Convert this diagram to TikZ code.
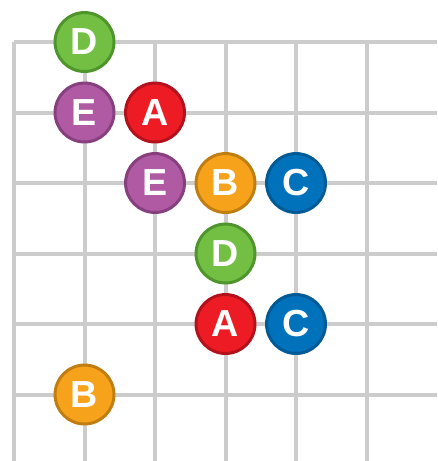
\documentclass[tikz,border=0pt]{standalone}
\usepackage{fontspec}
\setmainfont{Liberation Sans}
\usepackage{tikz}
\usetikzlibrary{positioning}
\definecolor{gridgray}{HTML}{CCCCCC}
\definecolor{rdA}{HTML}{ED1C24}
\definecolor{rdAedge}{HTML}{B3121C}
\definecolor{orB}{HTML}{F7A21B}
\definecolor{orBedge}{HTML}{C07D12}
\definecolor{blC}{HTML}{0071BB}
\definecolor{blCedge}{HTML}{005A95}
\definecolor{grD}{HTML}{72BF44}
\definecolor{grDedge}{HTML}{4E952C}
\definecolor{puE}{HTML}{B05AA4}
\definecolor{puEedge}{HTML}{873F7E}

\begin{document}
\begin{tikzpicture}[x=1cm,y=-1cm,
  ball/.style={circle,line width=1.2pt,minimum size=0.836cm,inner sep=0pt,text=white,font=\fontsize{15.2}{16}\selectfont\bfseries},
  ballA/.style={ball,draw=rdAedge,fill=rdA},
  ballB/.style={ball,draw=orBedge,fill=orB},
  ballC/.style={ball,draw=blCedge,fill=blC},
  ballD/.style={ball,draw=grDedge,fill=grD},
  ballE/.style={ball,draw=puEedge,fill=puE}]
\useasboundingbox (-0.199,-0.596) rectangle (6.0,5.943);
% grid
\foreach \r in {0,...,5} \draw[gridgray,line width=1.6pt] (0,\r) -- (6.0,\r);
\foreach \c in {0,...,5} \draw[gridgray,line width=1.6pt] (\c,0) -- (\c,5.943);
% balls
\node[ballD] (d1) at (1,0) {D};
\node[ballE] (e1) at (1,1) {E};
\node[ballA] (a1) at (2,1) {A};
\node[ballE] (e2) at (2,2) {E};
\node[ballB] (b1) at (3,2) {B};
\node[ballC] (c1) at (4,2) {C};
\node[ballD] (d2) at (3,3) {D};
\node[ballA] (a2) at (3,4) {A};
\node[ballC] (c2) at (4,4) {C};
\node[ballB] (b2) at (1,5) {B};
\end{tikzpicture}
\end{document}
